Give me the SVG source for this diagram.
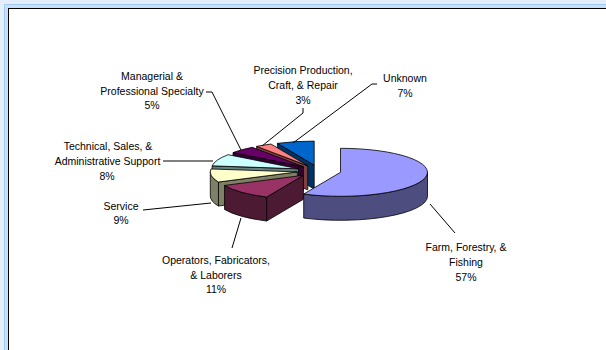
<svg xmlns="http://www.w3.org/2000/svg" width="606" height="350" viewBox="0 0 606 350">
<style>
text{font-family:"Liberation Sans",Arial,sans-serif;font-size:10.5px;fill:#000;text-anchor:middle}
.ln{fill:none;stroke:#000;stroke-width:1}
.s{stroke:#000;stroke-width:0.8;stroke-linejoin:round}
</style>
<rect width="606" height="350" fill="#e3edfb"/>
<rect x="4" y="4" width="610" height="360" fill="#c9def7"/>
<path d="M4.5,350 V4.5 H606" fill="none" stroke="#a3cbf2"/>
<rect x="8.5" y="8.5" width="610" height="360" fill="#fff" stroke="#000"/>

<g id="slice-unknown">
<path class="s" fill="#003366" d="M314.2,165.1 L277.43,143.35 L277.43,167.35 L314.2,189.1 Z"/>
<path class="s" fill="#0066cc" d="M314.2,165.1 L277.43,143.35 A87 24 0 0 1 314.2,141.1 Z"/>
</g>
<g id="slice-precision">
<path class="s" fill="#804040" d="M307.8,165.8 L256.66,146.38 L256.66,170.38 L307.8,189.8 Z"/>
<path class="s" fill="#ff8080" d="M307.8,165.8 L256.66,146.38 A87 24 0 0 1 271.03,144.05 Z"/>
</g>
<g id="slice-managerial">
<path class="s" fill="#330033" d="M303.4,166.7 L233.02,152.59 L233.02,176.59 L303.4,190.7 Z"/>
<path class="s" fill="#660066" d="M303.4,166.7 L233.02,152.59 A87 24 0 0 1 252.26,147.28 Z"/>
</g>
<g id="slice-technical">
<path class="s" fill="#668080" d="M298.5,168.8 L212.15,165.87 L212.15,189.87 L298.5,192.8 Z"/>
<path class="s" fill="#ccffff" d="M298.5,168.8 L212.15,165.87 A87 24 0 0 1 228.12,154.69 Z"/>
</g>
<g id="slice-service">
<path class="s" fill="#808066" d="M297.3,171.9 L218.45,182.04 L218.45,206.04 L297.3,195.9 Z"/>
<path class="s" fill="#808066" d="M218.45,182.04 A87 24 0 0 1 210.3,171.9 L210.3,195.9 A87 24 0 0 0 218.45,206.04 Z"/>
<path class="s" fill="#ffffcc" d="M297.3,171.9 L218.45,182.04 A87 24 0 0 1 210.95,168.97 Z"/>
</g>
<g id="slice-operators">
<path class="s" fill="#4d1a33" d="M303.4,175.3 L266.6,197.05 L266.6,221.05 L303.4,199.3 Z"/>
<path class="s" fill="#4d1a33" d="M266.6,197.05 A87 24 0 0 1 224.55,185.44 L224.55,209.44 A87 24 0 0 0 266.6,221.05 Z"/>
<path class="s" fill="#993366" d="M303.4,175.3 L266.6,197.05 A87 24 0 0 1 224.55,185.44 Z"/>
</g>
<g id="slice-farm">
<path class="s" fill="#4d4d80" d="M427.5,172.3 A87 24 0 0 1 303.7,194.05 L303.7,218.05 A87 24 0 0 0 427.5,196.3 Z"/>
<path class="s" fill="#9999ff" d="M340.5,172.3 L340.5,148.3 A87 24 0 1 1 303.7,194.05 Z"/>
</g>

<g id="connectors">
<polyline class="ln" points="206,92 212,92 241,150"/>
<polyline class="ln" points="303,108 303,113 262,146"/>
<polyline class="ln" points="377,84 372,84 293,143"/>
<polyline class="ln" points="163,161 213,161"/>
<polyline class="ln" points="143,210 211,203"/>
<polyline class="ln" points="241,218 232,248"/>
<polyline class="ln" points="430,204 455,233"/>
</g>

<g id="label-managerial"><text x="152" y="80">Managerial &amp;</text><text x="152" y="94.5">Professional Specialty</text><text x="152" y="109">5%</text></g>
<g id="label-precision"><text x="303" y="74">Precision Production,</text><text x="303" y="89">Craft, &amp; Repair</text><text x="303" y="103.5">3%</text></g>
<g id="label-unknown"><text x="405" y="82">Unknown</text><text x="405" y="97">7%</text></g>
<g id="label-technical"><text x="108" y="150">Technical, Sales, &amp;</text><text x="107.5" y="165">Administrative Support</text><text x="107" y="180">8%</text></g>
<g id="label-service"><text x="121" y="210">Service</text><text x="121" y="224">9%</text></g>
<g id="label-operators"><text x="216" y="264">Operators, Fabricators,</text><text x="216" y="278.5">&amp; Laborers</text><text x="216" y="293">11%</text></g>
<g id="label-farm"><text x="466" y="251">Farm, Forestry, &amp;</text><text x="466" y="266">Fishing</text><text x="466" y="281">57%</text></g>
</svg>
